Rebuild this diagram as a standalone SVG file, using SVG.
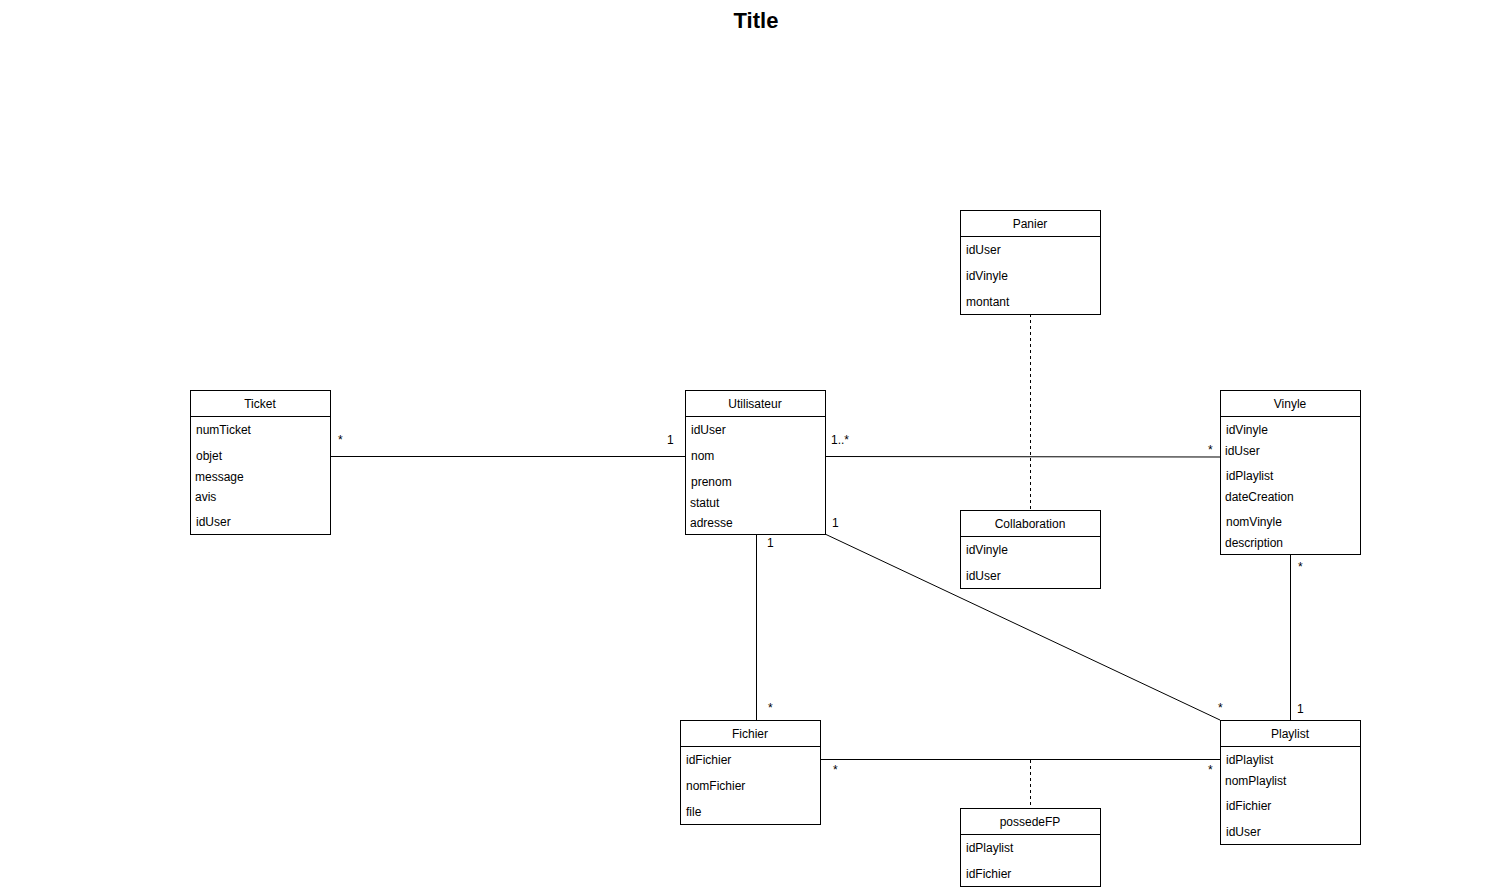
<svg xmlns="http://www.w3.org/2000/svg" width="1511" height="890" viewBox="0 0 1511 890">
<style>
text{font-family:"Liberation Sans",Arial,sans-serif;font-size:12px;fill:#000}
.box{fill:#fff;stroke:#000;stroke-width:1}
.hd{text-anchor:middle}
.ln{stroke:#000;stroke-width:1;fill:none}
.ds{stroke:#000;stroke-width:1;fill:none;stroke-dasharray:3,3}
.title{font-size:22px;font-weight:bold;text-anchor:middle}
</style>
<rect width="1511" height="890" fill="#fff"/>
<text class="title" x="756" y="28">Title</text>
<g id="connectors">
<line class="ln" x1="330" y1="456.5" x2="685" y2="456.5"/>
<line class="ln" x1="825" y1="456.5" x2="1220" y2="457"/>
<line class="ln" x1="756.5" y1="534" x2="756.5" y2="720"/>
<line class="ln" x1="825" y1="534" x2="1220" y2="720"/>
<line class="ln" x1="1290.5" y1="554" x2="1290.5" y2="720"/>
<line class="ln" x1="820" y1="759.5" x2="1220" y2="759.5"/>
<line class="ds" x1="1030.5" y1="314" x2="1030.5" y2="510"/>
<line class="ds" x1="1030.5" y1="760" x2="1030.5" y2="808"/>
<text x="338" y="444">*</text>
<text x="667" y="444">1</text>
<text x="831" y="444">1..*</text>
<text x="1208" y="454">*</text>
<text x="767" y="547">1</text>
<text x="768" y="712">*</text>
<text x="832" y="527">1</text>
<text x="1218" y="712">*</text>
<text x="1298" y="571">*</text>
<text x="1297" y="713">1</text>
<text x="833" y="774">*</text>
<text x="1208" y="774">*</text>
</g>
<g id="Ticket">
<rect class="box" x="190.5" y="390.5" width="140" height="144"/>
<line class="ln" x1="190.5" y1="416.5" x2="330.5" y2="416.5"/>
<text class="hd" x="260" y="408">Ticket</text>
<text x="196" y="434">numTicket</text>
<text x="196" y="460">objet</text>
<text x="195" y="481">message</text>
<text x="195" y="501">avis</text>
<text x="196" y="526">idUser</text>
</g>
<g id="Utilisateur">
<rect class="box" x="685.5" y="390.5" width="140" height="144"/>
<line class="ln" x1="685.5" y1="416.5" x2="825.5" y2="416.5"/>
<text class="hd" x="755" y="408">Utilisateur</text>
<text x="691" y="434">idUser</text>
<text x="691" y="460">nom</text>
<text x="691" y="486">prenom</text>
<text x="690" y="507">statut</text>
<text x="690" y="527">adresse</text>
</g>
<g id="Vinyle">
<rect class="box" x="1220.5" y="390.5" width="140" height="164"/>
<line class="ln" x1="1220.5" y1="416.5" x2="1360.5" y2="416.5"/>
<text class="hd" x="1290" y="408">Vinyle</text>
<text x="1226" y="434">idVinyle</text>
<text x="1225" y="455">idUser</text>
<text x="1226" y="480">idPlaylist</text>
<text x="1225" y="501">dateCreation</text>
<text x="1226" y="526">nomVinyle</text>
<text x="1225" y="547">description</text>
</g>
<g id="Panier">
<rect class="box" x="960.5" y="210.5" width="140" height="104"/>
<line class="ln" x1="960.5" y1="236.5" x2="1100.5" y2="236.5"/>
<text class="hd" x="1030" y="228">Panier</text>
<text x="966" y="254">idUser</text>
<text x="966" y="280">idVinyle</text>
<text x="966" y="306">montant</text>
</g>
<g id="Collaboration">
<rect class="box" x="960.5" y="510.5" width="140" height="78"/>
<line class="ln" x1="960.5" y1="536.5" x2="1100.5" y2="536.5"/>
<text class="hd" x="1030" y="528">Collaboration</text>
<text x="966" y="554">idVinyle</text>
<text x="966" y="580">idUser</text>
</g>
<g id="Fichier">
<rect class="box" x="680.5" y="720.5" width="140" height="104"/>
<line class="ln" x1="680.5" y1="746.5" x2="820.5" y2="746.5"/>
<text class="hd" x="750" y="738">Fichier</text>
<text x="686" y="764">idFichier</text>
<text x="686" y="790">nomFichier</text>
<text x="686" y="816">file</text>
</g>
<g id="Playlist">
<rect class="box" x="1220.5" y="720.5" width="140" height="124"/>
<line class="ln" x1="1220.5" y1="746.5" x2="1360.5" y2="746.5"/>
<text class="hd" x="1290" y="738">Playlist</text>
<text x="1226" y="764">idPlaylist</text>
<text x="1225" y="785">nomPlaylist</text>
<text x="1226" y="810">idFichier</text>
<text x="1226" y="836">idUser</text>
</g>
<g id="possedeFP">
<rect class="box" x="960.5" y="808.5" width="140" height="78"/>
<line class="ln" x1="960.5" y1="834.5" x2="1100.5" y2="834.5"/>
<text class="hd" x="1030" y="826">possedeFP</text>
<text x="966" y="852">idPlaylist</text>
<text x="966" y="878">idFichier</text>
</g>
</svg>
